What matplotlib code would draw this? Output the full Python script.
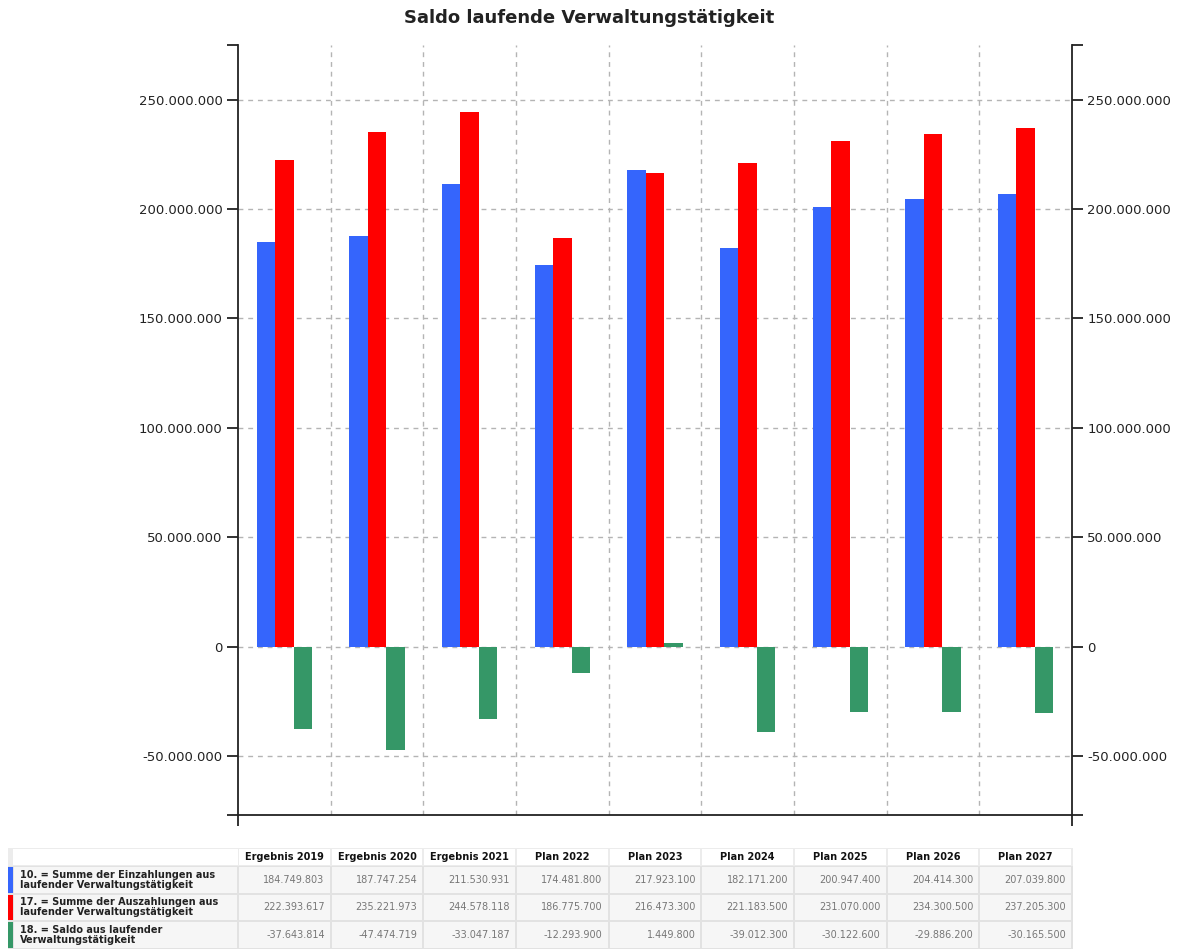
import matplotlib
matplotlib.use("Agg")
import matplotlib.pyplot as plt
from matplotlib.patches import Rectangle
import numpy as np

categories = ["Ergebnis 2019", "Ergebnis 2020", "Ergebnis 2021", "Plan 2022", "Plan 2023",
              "Plan 2024", "Plan 2025", "Plan 2026", "Plan 2027"]
einzahlungen = [184749803, 187747254, 211530931, 174481800, 217923100,
                182171200, 200947400, 204414300, 207039800]
auszahlungen = [222393617, 235221973, 244578118, 186775700, 216473300,
                221183500, 231070000, 234300500, 237205300]
saldo = [-37643814, -47474719, -33047187, -12293900, 1449800,
         -39012300, -30122600, -29886200, -30165500]
series_labels = ["10. = Summe der Einzahlungen aus\nlaufender Verwaltungstätigkeit",
                 "17. = Summe der Auszahlungen aus\nlaufender Verwaltungstätigkeit",
                 "18. = Saldo aus laufender\nVerwaltungstätigkeit"]
colors = ["#3565fc", "#ff0000", "#359767"]
yticks = [-50000000, 0, 50000000, 100000000, 150000000, 200000000, 250000000]
title = "Saldo laufende Verwaltungstätigkeit"

W, H = 1178, 949
fig = plt.figure(figsize=(W / 100, H / 100), dpi=100)
plt.rcParams['font.family'] = ['DejaVu Sans']

def fmt(v):
    return f"{v:,.0f}".replace(",", ".")

L, R, T, B = 238, 1072, 45, 815
ax = fig.add_axes([L / W, 1 - B / H, (R - L) / W, (B - T) / H])
ymin, ymax = -77e6, 275e6
n = len(categories)
x = np.arange(n)
bw = 0.2
for k, (vals, c) in enumerate(zip([einzahlungen, auszahlungen, saldo], colors)):
    ax.bar(x + (k - 1) * bw, vals, width=bw, color=c, zorder=3)

ax.set_xlim(-0.5, n - 0.5)
ax.set_ylim(ymin, ymax)
ax.set_yticks([ymin] + yticks + [ymax])
ax.set_yticklabels([""] + [fmt(v) for v in yticks] + [""])
ax.set_xticks([-0.5, n - 0.5])
ax.set_xticklabels(["", ""])
ax.set_xticks(np.arange(n - 1) + 0.5, minor=True)
ax.tick_params(axis='x', which='minor', length=0)
ax.tick_params(axis='both', which='major', length=8, width=1.3, color='#222',
               labelsize=9.5, labelcolor='#222', direction='out')
ax.tick_params(axis='y', labelright=True, right=True, pad=3)
ax.grid(axis='y', which='major', linestyle=(0, (3.5, 3.5)), color='#b4b4b4', linewidth=1, zorder=0)
ax.grid(axis='x', which='minor', linestyle=(0, (3.5, 3.5)), color='#b4b4b4', linewidth=1, zorder=0)
ax.spines['top'].set_visible(False)
for s in ['left', 'right', 'bottom']:
    ax.spines[s].set_linewidth(1.3)
    ax.spines[s].set_color('#222')
gl = ax.get_ygridlines()
gl[0].set_visible(False)
gl[-1].set_visible(False)

fig.text(0.5, 1 - 18 / H, title, ha='center', va='center', fontsize=13, fontweight='bold', color='#222')

# Table
tax = fig.add_axes([0, 0, 1, 1])
tax.set_xlim(0, W)
tax.set_ylim(H, 0)
tax.axis('off')
col_w = (R - L) / n
x0 = 8
top = 848
hh = 18
rh = 27.5
tax.add_patch(Rectangle((x0, top), 1073 - x0, hh, facecolor='#ececec', edgecolor='none'))
tax.add_patch(Rectangle((x0 + 5, top + 1), L - x0 - 5, hh - 2, facecolor='white', edgecolor='none'))
for j, cat in enumerate(categories):
    cx = L + j * col_w
    tax.add_patch(Rectangle((cx + 1, top + 1), col_w - 2, hh - 2, facecolor='white', edgecolor='none'))
    tax.text(cx + col_w / 2, top + hh / 2 + 0.5, cat, ha='center', va='center', fontsize=7,
             fontweight='bold', color='#111')
for i, (lab, vals, c) in enumerate(zip(series_labels, [einzahlungen, auszahlungen, saldo], colors)):
    y = top + hh + i * rh
    tax.add_patch(Rectangle((x0, y), 1073 - x0, rh, facecolor='#e2e2e2', edgecolor='none'))
    tax.add_patch(Rectangle((x0, y + 1), 5, rh - 2, facecolor=c, edgecolor='none'))
    tax.add_patch(Rectangle((x0 + 6, y + 1), L - x0 - 7, rh - 2, facecolor='#f6f6f6', edgecolor='none'))
    tax.text(x0 + 12, y + rh / 2, lab, ha='left', va='center', fontsize=7, fontweight='bold',
             color='#222', linespacing=1.05)
    for j, v in enumerate(vals):
        cx = L + j * col_w
        tax.add_patch(Rectangle((cx + 1, y + 1), col_w - 2, rh - 2, facecolor='#f6f6f6', edgecolor='none'))
        tax.text(cx + col_w - 6, y + rh / 2, fmt(v), ha='right', va='center', fontsize=7,
                 color='#777')

fig.savefig("out.png", dpi=100)
